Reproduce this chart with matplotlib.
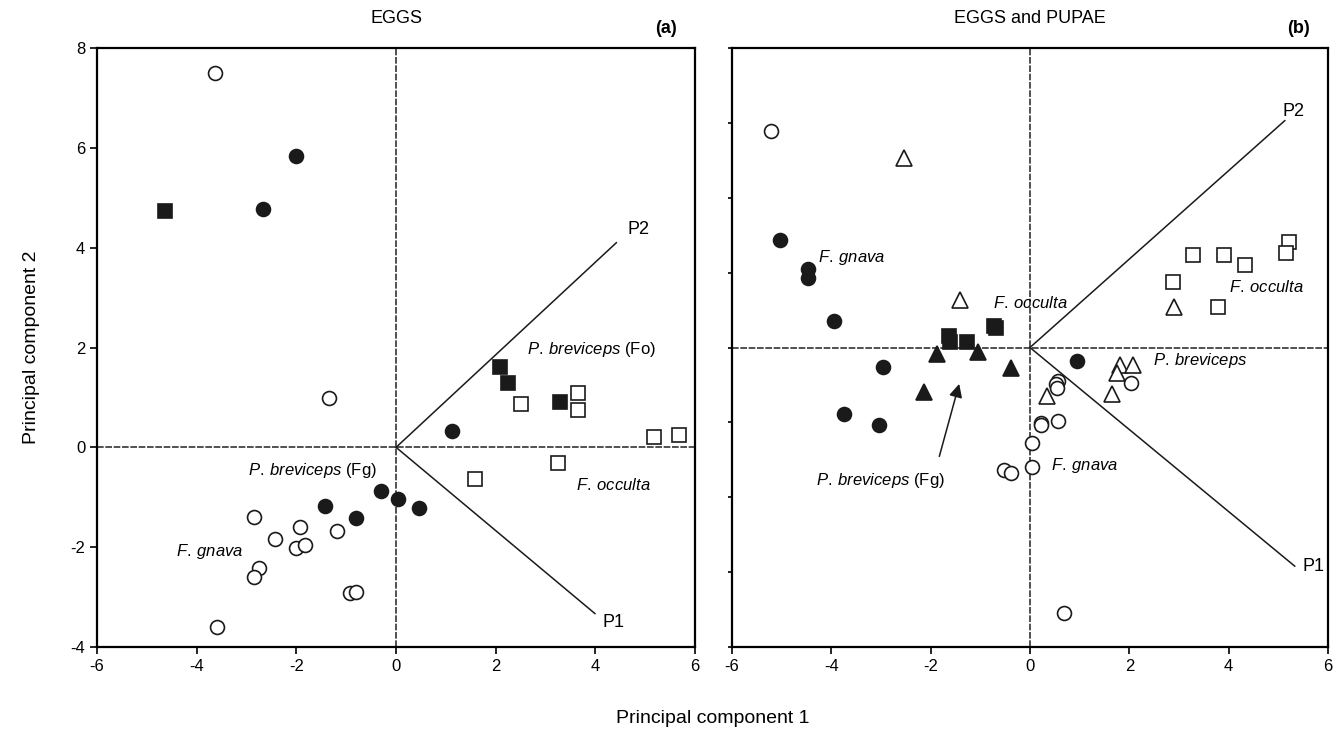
import matplotlib.pyplot as plt

plt.rcParams['font.family'] = ['Liberation Sans', 'DejaVu Sans']
plt.rcParams['mathtext.fontset'] = 'custom'
plt.rcParams['mathtext.rm'] = 'Liberation Sans'
plt.rcParams['mathtext.it'] = 'Liberation Sans:italic'
plt.rcParams['axes.unicode_minus'] = False

# ---- panel (a): EGGS ----
a_open_circle_x = [-3.63, -1.35, -2.85, -1.93, -2.43, -1.18, -2.01, -1.83, -2.76, -2.86, -0.92, -0.80, -3.59]
a_open_circle_y = [7.49, 0.98, -1.39, -1.60, -1.84, -1.67, -2.01, -1.96, -2.42, -2.59, -2.92, -2.89, -3.59]
a_fill_circle_x = [-2.01, -2.68, 1.12, -0.30, 0.03, 0.45, -1.43, -0.81]
a_fill_circle_y = [5.83, 4.78, 0.33, -0.88, -1.04, -1.22, -1.17, -1.42]
a_fill_square_x = [-4.64, 2.08, 2.24, 3.29]
a_fill_square_y = [4.73, 1.61, 1.28, 0.91]
a_open_square_x = [2.50, 3.66, 3.66, 5.17, 5.67, 3.25, 1.58]
a_open_square_y = [0.86, 1.08, 0.74, 0.21, 0.24, -0.31, -0.64]
a_p1 = (3.99, -3.33)
a_p2 = (4.42, 4.10)

# ---- panel (b): EGGS and PUPAE ----
b_open_circle_x = [-5.21, 0.57, 0.52, 0.54, 2.03, 0.23, 0.23, 0.57, 0.05, 0.05, -0.52, -0.39, 0.68]
b_open_circle_y = [2.89, -0.45, -0.49, -0.54, -0.48, -1.01, -1.04, -0.98, -1.28, -1.60, -1.64, -1.67, -3.55]
b_fill_circle_x = [-5.04, -4.46, -4.46, -3.95, -2.95, 0.94, -3.74, -3.03]
b_fill_circle_y = [1.43, 1.05, 0.93, 0.36, -0.26, -0.18, -0.89, -1.04]
b_fill_square_x = [-1.64, -1.60, -1.27, -0.72, -0.68]
b_fill_square_y = [0.16, 0.07, 0.07, 0.29, 0.26]
b_open_square_x = [5.21, 5.16, 3.29, 3.91, 4.33, 2.87, 3.79]
b_open_square_y = [1.41, 1.26, 1.23, 1.24, 1.10, 0.88, 0.54]
b_open_tri_x = [-2.54, -1.41, 2.89, 1.81, 2.07, 1.76, 1.65, 0.35]
b_open_tri_y = [2.53, 0.63, 0.54, -0.24, -0.23, -0.34, -0.62, -0.65]
b_fill_tri_x = [-1.87, -1.04, -0.38, -2.13]
b_fill_tri_y = [-0.09, -0.06, -0.28, -0.60]
b_p1 = (5.33, -2.92)
b_p2 = (5.13, 3.03)

fig = plt.figure(figsize=(13.44, 7.32), dpi=100)
ax1 = fig.add_axes([0.0722, 0.1161, 0.445, 0.8183])
ax2 = fig.add_axes([0.5446, 0.1161, 0.4435, 0.8183])

ms = 10
ew = 1.2


def pts(ax, x, y, marker, filled, size=ms):
    ax.plot(x, y, linestyle='none', marker=marker, markersize=size,
            markerfacecolor='#1a1a1a' if filled else 'white',
            markeredgecolor='#1a1a1a', markeredgewidth=ew, zorder=3)


def frame(ax):
    ax.axhline(0, color='#333333', lw=1.2, ls=(0, (4, 1)), zorder=1)
    ax.axvline(0, color='#333333', lw=1.2, ls=(0, (4, 1)), zorder=1)
    for s in ax.spines.values():
        s.set_linewidth(1.6)
    ax.tick_params(direction='out', length=5, width=1.2, labelsize=12)
    ax.set_xlim(-6, 6)
    ax.set_xticks(range(-6, 7, 2))


def lab(ax, x, y, s):
    ax.text(x, y, s, fontsize=12, va='center')


# panel a
frame(ax1)
ax1.set_ylim(-4, 8)
ax1.set_yticks(range(-4, 9, 2))
ax1.plot([0, a_p1[0]], [0, a_p1[1]], color='#1a1a1a', lw=1.1, zorder=2)
ax1.plot([0, a_p2[0]], [0, a_p2[1]], color='#1a1a1a', lw=1.1, zorder=2)
pts(ax1, a_open_circle_x, a_open_circle_y, 'o', False)
pts(ax1, a_fill_circle_x, a_fill_circle_y, 'o', True)
pts(ax1, a_open_square_x, a_open_square_y, 's', False, 9.5)
pts(ax1, a_fill_square_x, a_fill_square_y, 's', True, 9.5)
ax1.text(4.64, 4.37, 'P2', fontsize=13, va='center')
ax1.text(4.14, -3.50, 'P1', fontsize=13, va='center')
lab(ax1, 2.62, 1.96, r'$\it{P.\:breviceps}$ (Fo)')
lab(ax1, 3.61, -0.76, r'$\it{F.\:occulta}$')
lab(ax1, -2.97, -0.47, r'$\it{P.\:breviceps}$ (Fg)')
lab(ax1, -4.41, -2.08, r'$\it{F.\:gnava}$')
ax1.set_title('EGGS', fontsize=13, pad=18)
ax1.text(0.97, 1.018, '(a)', transform=ax1.transAxes, fontsize=13,
         fontweight='bold', ha='right', va='bottom')
ax1.set_ylabel('Principal component 2', fontsize=14, labelpad=22)

# panel b
frame(ax2)
ax2.set_ylim(-4, 4)
ax2.set_yticks(range(-4, 5))
ax2.tick_params(axis='y', labelleft=False, length=3)
ax2.plot([0, b_p1[0]], [0, b_p1[1]], color='#1a1a1a', lw=1.1, zorder=2)
ax2.plot([0, b_p2[0]], [0, b_p2[1]], color='#1a1a1a', lw=1.1, zorder=2)
pts(ax2, b_open_circle_x, b_open_circle_y, 'o', False)
pts(ax2, b_fill_circle_x, b_fill_circle_y, 'o', True)
pts(ax2, b_open_square_x, b_open_square_y, 's', False, 9.5)
pts(ax2, b_fill_square_x, b_fill_square_y, 's', True, 9.5)
pts(ax2, b_open_tri_x, b_open_tri_y, '^', False, 11)
pts(ax2, b_fill_tri_x, b_fill_tri_y, '^', True, 11)
ax2.annotate('', xy=(-1.41, -0.45), xytext=(-1.84, -1.49),
             arrowprops=dict(arrowstyle='-|>', color='#1a1a1a', lw=1.1,
                             mutation_scale=20))
ax2.text(5.09, 3.15, 'P2', fontsize=13, va='center')
ax2.text(5.49, -2.92, 'P1', fontsize=13, va='center')
lab(ax2, -4.26, 1.20, r'$\it{F.\:gnava}$')
lab(ax2, -0.74, 0.60, r'$\it{F.\:occulta}$')
lab(ax2, 4.01, 0.81, r'$\it{F.\:occulta}$')
lab(ax2, 2.47, -0.17, r'$\it{P.\:breviceps}$')
lab(ax2, 0.42, -1.57, r'$\it{F.\:gnava}$')
lab(ax2, -4.31, -1.78, r'$\it{P.\:breviceps}$ (Fg)')
ax2.set_title('EGGS and PUPAE', fontsize=13, pad=18)
ax2.text(0.97, 1.018, '(b)', transform=ax2.transAxes, fontsize=13,
         fontweight='bold', ha='right', va='bottom')

fig.text(0.53, 0.012, 'Principal component 1', fontsize=14, ha='center')

fig.savefig('out.png', dpi=100)
